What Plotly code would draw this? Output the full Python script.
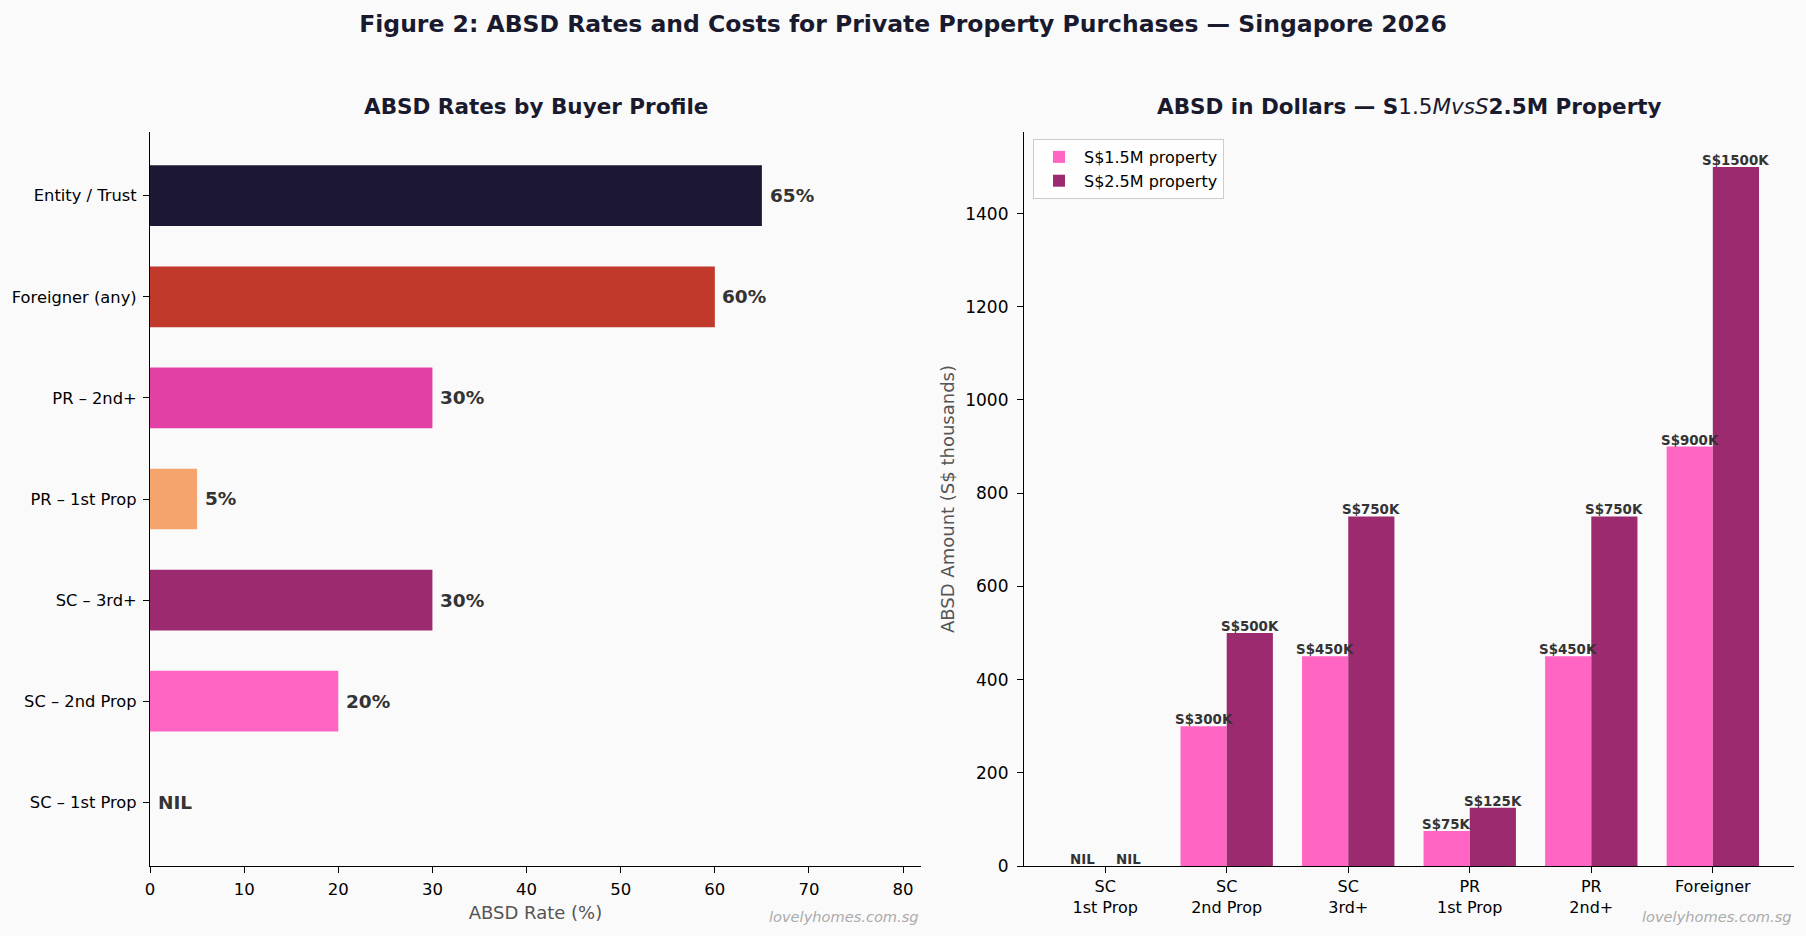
import plotly.graph_objects as go

# ---------------- data ----------------
profiles = ["SC – 1st Prop", "SC – 2nd Prop", "SC – 3rd+", "PR – 1st Prop",
            "PR – 2nd+", "Foreigner (any)", "Entity / Trust"]
rates = [0, 20, 30, 5, 30, 60, 65]
profile_colors = ["#FF66C4", "#FF66C4", "#9B2A6F", "#F4A46C", "#E340A5", "#C0392B", "#1C1735"]

groups = ["SC<br>1st Prop", "SC<br>2nd Prop", "SC<br>3rd+", "PR<br>1st Prop", "PR<br>2nd+", "Foreigner"]
absd_15m = [0, 300, 450, 75, 450, 900]
absd_25m = [0, 500, 750, 125, 750, 1500]
series_names = ["S$1.5M property", "S$2.5M property"]
series_colors = ["#FF66C4", "#9B2A6F"]

FONT = "DejaVu Sans"
W, H = 1806, 936
BG = "#FAFAFA"

def px_x(p):
    return p / W

def px_y(p):
    return 1 - p / H

fig = go.Figure()

# ---------------- left: horizontal bars ----------------
fig.add_trace(go.Bar(
    x=rates, y=profiles, orientation="h", width=0.6,
    marker=dict(color=profile_colors, line=dict(width=0)),
    showlegend=False, xaxis="x", yaxis="y", hoverinfo="skip",
))
for p, r in zip(profiles, rates):
    fig.add_annotation(
        x=r + 0.6, y=p, xref="x", yref="y", xanchor="left", yanchor="middle",
        text="<b>%s</b>" % ("NIL" if r == 0 else f"{r}%"), showarrow=False,
        font=dict(family=FONT, size=18.5, color="#333333"),
    )

# ---------------- right: grouped bars ----------------
xpos = list(range(len(groups)))
for vals, name, col, off in zip([absd_15m, absd_25m], series_names, series_colors, [-0.38, 0.0]):
    fig.add_trace(go.Bar(
        x=xpos, y=vals, width=0.38, offset=off, name=name,
        marker=dict(color=col, line=dict(width=0)),
        xaxis="x2", yaxis="y2", hoverinfo="skip",
    ))
    for xi, v in zip(xpos, vals):
        fig.add_annotation(
            x=xi + off + 0.19, y=v, xref="x2", yref="y2", xanchor="center", yanchor="bottom",
            text="<b>%s</b>" % ("NIL" if v == 0 else f"S${v}K"), showarrow=False,
            font=dict(family=FONT, size=13.4, color="#333333"), yshift=-3,
        )

# ---------------- titles and watermarks ----------------
fig.add_annotation(
    x=(px_x(150) + px_x(921)) / 2, y=px_y(106), xref="paper", yref="paper",
    text="<b>ABSD Rates by Buyer Profile</b>", showarrow=False,
    xanchor="center", yanchor="middle", font=dict(family=FONT, size=21.5, color="#1a1a2e"),
)
fig.add_annotation(
    x=(px_x(1024) + px_x(1794)) / 2, y=px_y(106), xref="paper", yref="paper",
    text="<b>ABSD in Dollars — S</b>1.5<i>MvsS</i><b>2.5M Property</b>", showarrow=False,
    xanchor="center", yanchor="middle", font=dict(family=FONT, size=21.5, color="#1a1a2e"),
)
for xr in [921, 1794]:
    fig.add_annotation(
        x=px_x(xr), y=px_y(916), xref="paper", yref="paper",
        text="<i>lovelyhomes.com.sg</i>", showarrow=False,
        xanchor="right", yanchor="middle", font=dict(family=FONT, size=14.6, color="#AAAAAA"),
    )

axis_common = dict(
    showline=True, linecolor="black", linewidth=1.2, mirror=False,
    ticks="outside", ticklen=6, tickwidth=1.2, tickcolor="black",
    showgrid=False, zeroline=False, automargin=False,
)

fig.update_layout(
    width=W, height=H, autosize=False,
    margin=dict(l=0, r=0, t=0, b=0),
    paper_bgcolor=BG, plot_bgcolor=BG,
    font=dict(family=FONT, color="black"),
    title=dict(
        text="<b>Figure 2: ABSD Rates and Costs for Private Property Purchases — Singapore 2026</b>",
        x=0.5, xanchor="center", y=px_y(24), yanchor="middle",
        font=dict(family=FONT, size=23.5, color="#1a1a2e"),
    ),
    xaxis=dict(
        domain=[px_x(150), px_x(921)], range=[0, 81.9], dtick=10, anchor="y",
        tickfont=dict(size=16.5, color="black"), ticklabelstandoff=2,
        title=dict(text="ABSD Rate (%)", font=dict(size=18, color="#555555"), standoff=8),
        **axis_common,
    ),
    yaxis=dict(
        domain=[px_y(866), px_y(132)], anchor="x", type="category",
        categoryorder="array", categoryarray=profiles, range=[-0.63, 6.63],
        tickfont=dict(size=16.3, color="black"), ticklabelstandoff=3,
        **axis_common,
    ),
    xaxis2=dict(
        domain=[px_x(1024), px_x(1794)], range=[-0.668, 5.668], anchor="y2",
        tickvals=xpos, ticktext=groups, ticklabelstandoff=0,
        tickfont=dict(size=16, color="black"),
        **axis_common,
    ),
    yaxis2=dict(
        domain=[px_y(866), px_y(132)], range=[0, 1575], dtick=200, anchor="x2",
        tickfont=dict(size=17, color="black"), ticklabelstandoff=5,
        title=dict(text="ABSD Amount (S$ thousands)", font=dict(size=18, color="#555555"), standoff=5),
        **axis_common,
    ),
    legend=dict(
        x=px_x(1033), y=px_y(139), xanchor="left", yanchor="top",
        bgcolor="rgba(255,255,255,0.8)", bordercolor="#CCCCCC", borderwidth=1,
        font=dict(family=FONT, size=16, color="black"), itemwidth=40,
    ),
    barmode="overlay",
)

fig.write_html("out.html")
